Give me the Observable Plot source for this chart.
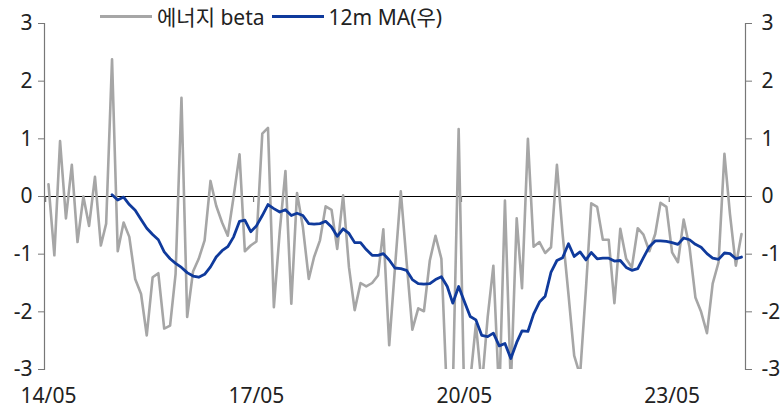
<!DOCTYPE html>
<html><head><meta charset="utf-8">
<script src="https://cdn.jsdelivr.net/npm/d3@7"></script>
<script src="https://cdn.jsdelivr.net/npm/@observablehq/plot@0.6"></script>
<style>
body{margin:0;background:#fff;}
#wrap{position:relative;width:783px;height:408px;font-family:"Noto Sans","Noto Sans CJK KR",sans-serif;}
#legend{position:absolute;left:100px;top:0;height:32px;display:flex;align-items:center;font-size:21px;color:#222;white-space:nowrap;z-index:2;}
#legend .item{display:flex;align-items:center;margin-right:7px;}
#legend .sw{display:inline-block;width:52px;height:3px;margin-right:5px;}
</style></head><body><div id="wrap"></div>
<script>
const seriesNames = ["에너지 beta", "12m MA(우)"];
const seriesColors = ["#a6a6a6", "#0f3a9c"];
const startMonth = "2014-05";
const xTickLabels = ["14/05", "17/05", "20/05", "23/05"];
const yTicks = [-3, -2, -1, 0, 1, 2, 3];

const beta = [
  0.21,-1.02,0.96,-0.38,0.55,-0.79,0.0,-0.51,0.34,-0.85,
  -0.47,2.38,-0.95,-0.45,-0.7,-1.43,-1.69,-2.41,-1.4,-1.33,
  -2.29,-2.24,-1.34,1.71,-2.09,-1.3,-1.08,-0.76,0.27,-0.16,
  -0.45,-0.68,0.0,0.73,-0.95,-0.85,-0.78,1.09,1.19,-1.92,
  -0.6,0.44,-1.86,0.06,-0.53,-1.43,-1.05,-0.76,-0.17,-0.23,
  -0.91,0.02,-1.23,-1.97,-1.5,-1.56,-1.5,-1.37,-0.57,-2.58,
  -1.25,0.09,-1.11,-2.31,-1.94,-1.99,-1.11,-0.68,-1.08,-3.6,
  -3.4,1.17,-3.6,-3.2,-2.21,-3.3,-2.09,-1.2,-3.5,-0.07,
  -3.3,-0.38,-1.59,1.0,-0.87,-0.79,-0.98,-0.88,0.55,-0.65,
  -1.7,-2.76,-3.1,-1.6,-0.12,-0.18,-0.75,-0.75,-1.85,-0.56,
  -1.08,-1.23,-0.55,-0.66,-0.95,-0.65,-0.11,-0.18,-0.97,-1.14,
  -0.4,-0.88,-1.75,-2.0,-2.37,-1.51,-1.14,0.74,-0.3,-1.2,
  -0.65
];

const ma = [
  null,null,null,null,null,null,null,null,null,null,null,
  0.03,-0.06,-0.01,-0.14,-0.24,-0.40,-0.55,-0.66,-0.75,
  -0.96,-1.08,-1.16,-1.23,-1.32,-1.38,-1.40,-1.35,-1.22,-1.05,
  -0.94,-0.87,-0.70,-0.43,-0.41,-0.61,-0.51,-0.33,-0.14,-0.21,
  -0.27,-0.23,-0.33,-0.29,-0.33,-0.47,-0.48,-0.47,-0.43,-0.53,
  -0.69,-0.56,-0.64,-0.80,-0.80,-0.92,-1.02,-1.02,-0.99,-1.10,
  -1.24,-1.25,-1.28,-1.44,-1.51,-1.52,-1.51,-1.44,-1.39,-1.56,
  -1.85,-1.56,-1.82,-2.08,-2.14,-2.41,-2.43,-2.37,-2.59,-2.55,
  -2.81,-2.53,-2.33,-2.34,-2.04,-1.83,-1.73,-1.31,-1.11,-1.06,
  -0.82,-1.04,-0.96,-1.10,-0.97,-1.08,-1.07,-1.07,-1.12,-1.11,
  -1.23,-1.28,-1.25,-1.06,-0.87,-0.77,-0.77,-0.78,-0.80,-0.83,
  -0.72,-0.75,-0.83,-0.88,-0.99,-1.07,-1.09,-0.98,-0.99,-1.08,
  -1.05
];

const start = d3.utcParse("%Y-%m")(startMonth);
const months = d3.utcMonth.range(start, d3.utcMonth.offset(start, beta.length));
const rows = months.map((d, i) => ({date: d, beta: beta[i], ma: ma[i]}));
const parseLbl = d3.utcParse("%y/%m");
const labelDates = xTickLabels.map(parseLbl);
const boundaryDates = labelDates.map(d => d3.utcDay.offset(d, -15));
const labelMap = new Map(labelDates.map((d, i) => [+d, xTickLabels[i]]));

const chart = Plot.plot({
  width: 783,
  height: 408,
  marginLeft: 44,
  marginRight: 38,
  marginTop: 23,
  marginBottom: 39,
  style: {fontFamily: '"Noto Sans","Noto Sans CJK KR",sans-serif', fontSize: "21px", color: "#222", background: "#fff"},
  x: {type: "utc", domain: [d3.utcDay.offset(months[0], -21), d3.utcDay.offset(months[months.length - 1], 21)]},
  y: {domain: [-3, 3]},
  marks: [
    Plot.ruleY([0], {stroke: "#000", strokeWidth: 1.2}),
    Plot.ruleX(boundaryDates, {x: d => d, y1: 0, y2: 0, insetBottom: -6, stroke: "#777", strokeWidth: 1.2}),
    Plot.frame({anchor: "left", stroke: "#777", strokeWidth: 1.2}),
    Plot.frame({anchor: "right", stroke: "#777", strokeWidth: 1.2}),
    Plot.axisY({anchor: "left", ticks: yTicks, tickSize: 6, tickPadding: 6, tickFormat: d => String(d), fontSize: 21, stroke: "#777", fill: "#222", label: null}),
    Plot.axisY({anchor: "right", ticks: yTicks, tickSize: 6, tickPadding: 10, tickFormat: d => String(d), fontSize: 21, stroke: "#777", fill: "#222", label: null}),
    Plot.axisX({anchor: "bottom", ticks: labelDates, tickSize: 0, tickPadding: 19, tickFormat: d => labelMap.get(+d), fontSize: 21, fill: "#222", label: null}),
    Plot.line(rows, {x: "date", y: "beta", stroke: seriesColors[0], strokeWidth: 2.6, clip: true}),
    Plot.line(rows.filter(r => r.ma != null), {x: "date", y: "ma", stroke: seriesColors[1], strokeWidth: 2.8, clip: true})
  ]
});

const wrap = document.getElementById("wrap");
wrap.appendChild(chart);
const legend = document.createElement("div");
legend.id = "legend";
seriesNames.forEach((name, i) => {
  const item = document.createElement("span");
  item.className = "item";
  const sw = document.createElement("span");
  sw.className = "sw";
  sw.style.background = seriesColors[i];
  const t = document.createElement("span");
  t.textContent = name;
  item.appendChild(sw);
  item.appendChild(t);
  legend.appendChild(item);
});
wrap.appendChild(legend);
</script>
</body></html>
